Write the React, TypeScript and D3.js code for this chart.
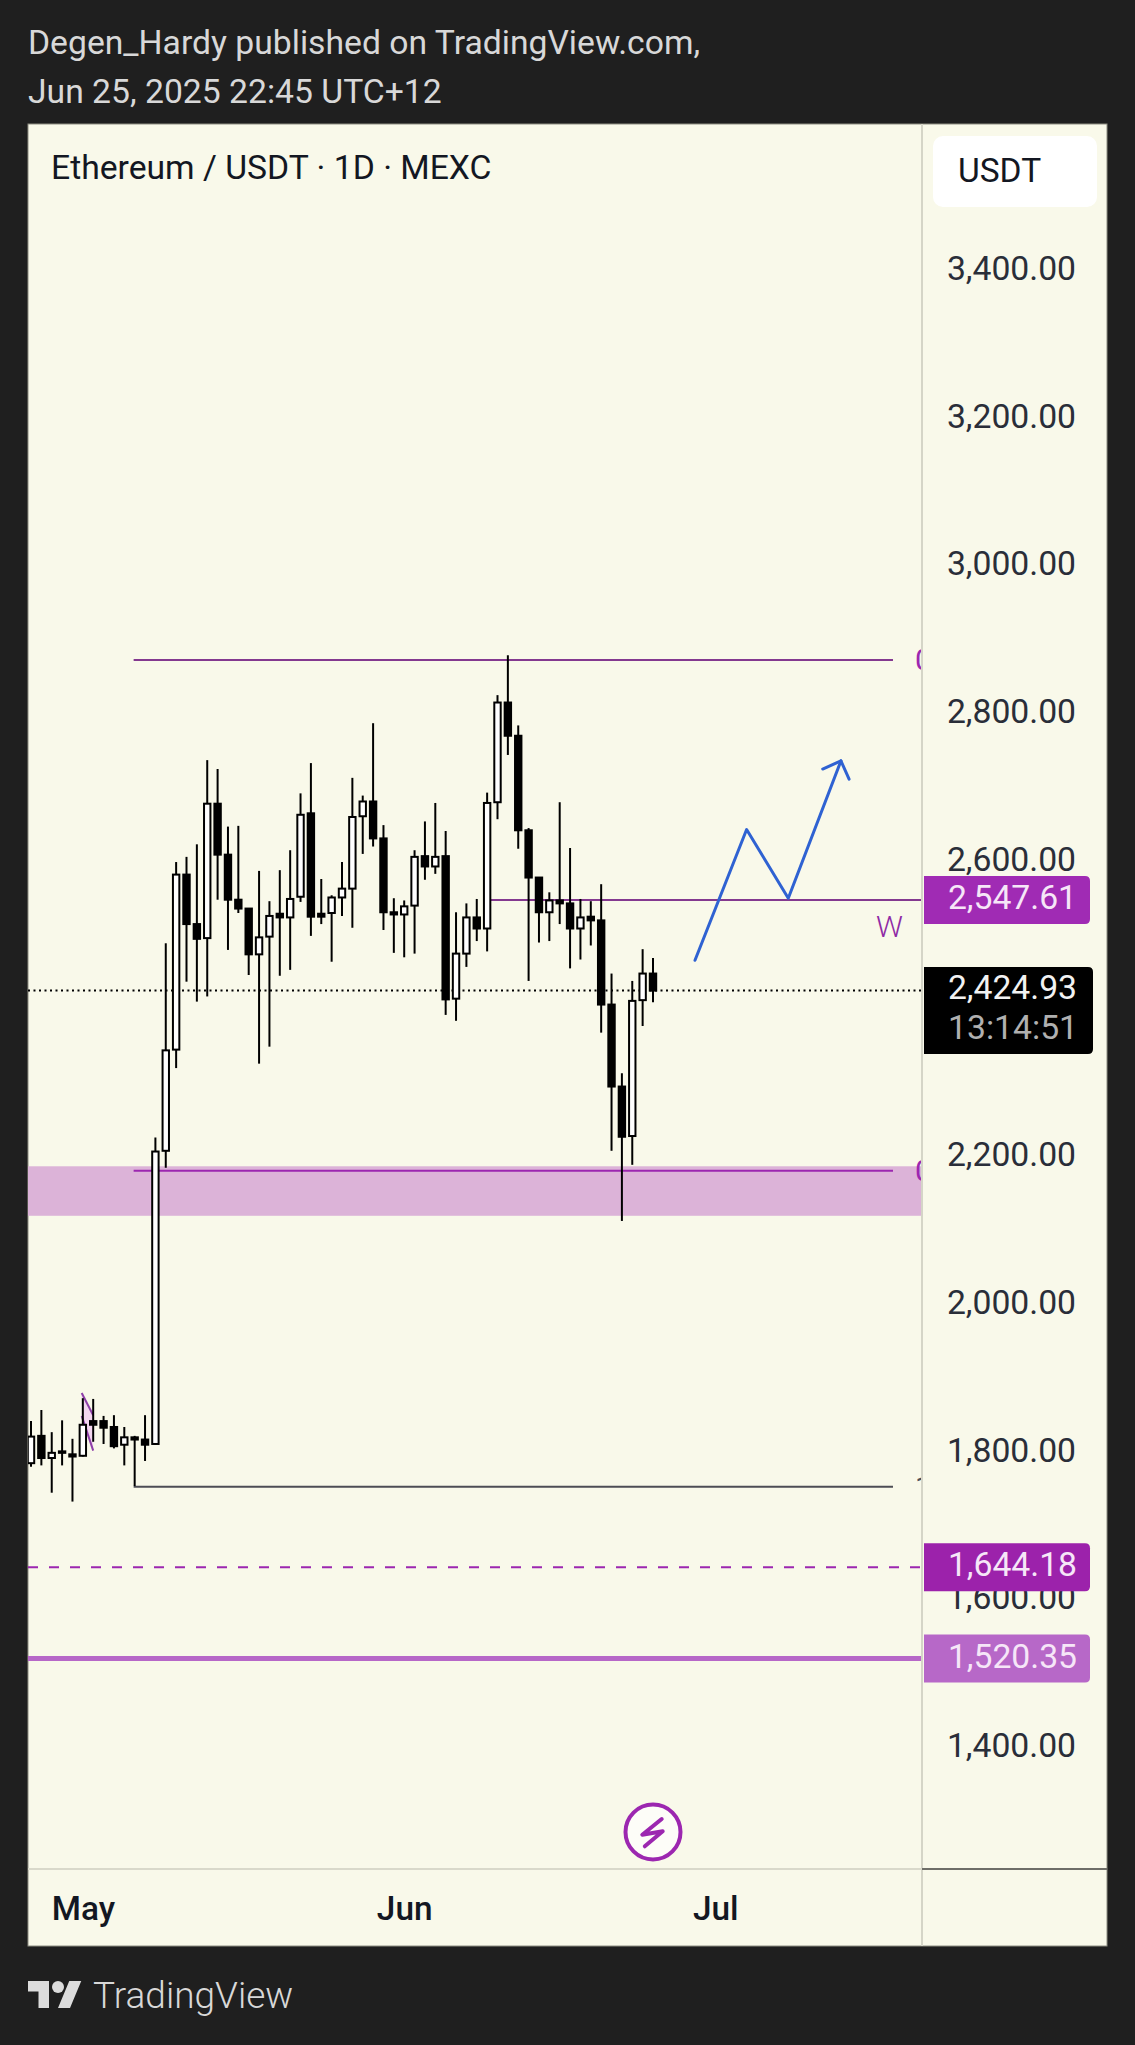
import React, { useEffect, useRef } from 'react';
import * as d3 from 'd3';

// Daily candles, first one is Apr 26 2025, last one is Jun 25 2025
const opens = [1785, 1822, 1792, 1799, 1797, 1795, 1842, 1842, 1834, 1810, 1820, 1817, 1811, 2208, 2345, 2582, 2515, 2496, 2678, 2609, 2548, 2536, 2474, 2498, 2529, 2524, 2552, 2665, 2529, 2530, 2551, 2563, 2661, 2681, 2631, 2531, 2528, 2540, 2607, 2593, 2607, 2414, 2475, 2524, 2509, 2680, 2815, 2770, 2642, 2578, 2531, 2547, 2543, 2509, 2525, 2520, 2406, 2295, 2228, 2412, 2448];
const highs = [1842, 1857, 1827, 1843, 1818, 1873, 1872, 1849, 1850, 1834, 1822, 1850, 2226, 2489, 2599, 2606, 2623, 2737, 2725, 2647, 2648, 2536, 2587, 2546, 2588, 2615, 2692, 2733, 2576, 2554, 2599, 2713, 2689, 2787, 2649, 2550, 2547, 2615, 2654, 2679, 2641, 2531, 2543, 2549, 2693, 2825, 2879, 2784, 2645, 2578, 2558, 2680, 2618, 2549, 2546, 2569, 2448, 2313, 2438, 2481, 2469];
const lows = [1780, 1782, 1745, 1782, 1733, 1794, 1814, 1811, 1805, 1782, 1754, 1788, 1810, 2185, 2320, 2437, 2410, 2417, 2548, 2480, 2530, 2446, 2326, 2349, 2445, 2453, 2545, 2499, 2515, 2464, 2526, 2510, 2610, 2620, 2507, 2476, 2470, 2475, 2575, 2583, 2392, 2384, 2457, 2492, 2478, 2657, 2744, 2617, 2438, 2490, 2492, 2515, 2455, 2467, 2486, 2368, 2208, 2113, 2189, 2377, 2409];
const closes = [1821, 1792, 1799, 1801, 1794, 1837, 1837, 1833, 1808, 1820, 1817, 1810, 2207, 2344, 2582, 2515, 2495, 2678, 2609, 2548, 2536, 2474, 2497, 2526, 2524, 2549, 2663, 2525, 2525, 2551, 2563, 2660, 2681, 2631, 2531, 2528, 2539, 2606, 2593, 2606, 2413, 2475, 2524, 2509, 2679, 2815, 2770, 2642, 2578, 2531, 2547, 2543, 2509, 2524, 2520, 2406, 2295, 2227, 2411, 2448, 2424.93];

const priceTicks = [3400, 3200, 3000, 2800, 2600, 2400, 2200, 2000, 1800, 1600, 1400];
const hiddenTicks = [2400]; // sits behind the last price label in the original
const monthTicks = [new Date(Date.UTC(2025, 4, 1)), new Date(Date.UTC(2025, 5, 1)), new Date(Date.UTC(2025, 6, 1))];

const headerLines = ['Degen_Hardy published on TradingView.com,', 'Jun 25, 2025 22:45 UTC+12'];
const chartTitle = 'Ethereum / USDT · 1D · MEXC';

// Drawings: bar index (may run past the last candle) and price
const topLevel = 2872.6;
const lowLevel = 2181;
const baseLevel = 1753;
const levelStart = 9.9;
const levelEnd = 83.15;
const midLevel = 2547.61;
const midLevelStart = 44;
const zone = [2187, 2120];
const dashedLevel = 1644.18;
const solidLevel = 1520.35;
const lastPrice = 2424.93;
const countdown = '13:14:51';
const projectionIdx = [64.05, 69.03, 73.05, 78.13];
const projectionPrice = [2466, 2643, 2550, 2736];
const patchIdx = [4.89, 6, 6, 4.89];
const patchPrice = [1880, 1850, 1802, 1849];

const FONT = 'Roboto, sans-serif';
const TEXT_SIZE = 33.7;
const PANE = '#f9f9ea';
const DARK = '#1f1f1f';
const PURPLE = '#9c27b0';
const LIGHT_PURPLE = '#b768c8';

const dateAt = (i: number) => new Date(Date.UTC(2025, 3, 26) + i * 86400000);

const App: React.FC = () => {
  const svgRef = useRef<SVGSVGElement | null>(null);

  useEffect(() => {
    if (!svgRef.current) return;
    const svg = d3.select(svgRef.current);
    svg.selectAll('*').remove();

    const paneLeft = 28;
    const paneRight = 922;
    const paneTop = 124;
    const paneBottom = 1869;
    const chartRight = 1107;
    const chartBottom = 1946;

    const x = d3.scaleUtc().domain([dateAt(0), dateAt(60)]).range([31, 653]);
    const y = d3.scaleLinear().domain([3400, 1400]).range([270.5, 1747.5]);
    const xi = (i: number) => x(dateAt(i));

    svg.append('rect').attr('width', 1135).attr('height', 2045).attr('fill', DARK);
    svg
      .append('rect')
      .attr('x', paneLeft)
      .attr('y', paneTop)
      .attr('width', chartRight - paneLeft)
      .attr('height', chartBottom - paneTop)
      .attr('fill', PANE)
      .attr('stroke', '#8d8d82')
      .attr('stroke-width', 1);

    svg
      .append('clipPath')
      .attr('id', 'pane-clip')
      .append('rect')
      .attr('x', paneLeft)
      .attr('y', paneTop)
      .attr('width', paneRight - paneLeft)
      .attr('height', paneBottom - paneTop);

    // Header
    svg
      .selectAll('.header')
      .data(headerLines)
      .enter()
      .append('text')
      .attr('class', 'header')
      .attr('x', 28)
      .attr('y', (_, i) => 54.3 + i * 48.4)
      .attr('fill', '#d8d8d8')
      .style('font', `${TEXT_SIZE}px ${FONT}`)
      .text((d) => d);

    const pane = svg.append('g').attr('clip-path', 'url(#pane-clip)');

    // Zone behind everything
    pane
      .append('rect')
      .attr('x', paneLeft)
      .attr('width', paneRight - paneLeft)
      .attr('y', y(zone[0]))
      .attr('height', y(zone[1]) - y(zone[0]))
      .attr('fill', '#dcb3d8');

    // Small pattern drawing
    const patchPts = patchIdx.map((d, i) => [xi(d), y(patchPrice[i])] as [number, number]);
    pane.append('polygon').attr('points', patchPts.map((p) => p.join(',')).join(' ')).attr('fill', '#f3d6ef');
    pane
      .append('path')
      .attr('d', d3.line()([patchPts[0], patchPts[1]]))
      .attr('stroke', '#8e3fa8')
      .attr('stroke-width', 2)
      .attr('fill', 'none');
    pane
      .append('path')
      .attr('d', d3.line()([patchPts[3], patchPts[2]]))
      .attr('stroke', '#8e3fa8')
      .attr('stroke-width', 2)
      .attr('fill', 'none');

    // Horizontal levels
    const hLine = (price: number, from: number, to: number, color: string, width: number, dash?: string) =>
      pane
        .append('line')
        .attr('x1', from)
        .attr('x2', to)
        .attr('y1', y(price))
        .attr('y2', y(price))
        .attr('stroke', color)
        .attr('stroke-width', width)
        .attr('stroke-dasharray', dash ?? null);

    hLine(lastPrice, paneLeft, paneRight, '#000', 2, '2,3.5');
    hLine(topLevel, xi(levelStart), xi(levelEnd), '#84398f', 2);
    hLine(lowLevel, xi(levelStart), xi(levelEnd), PURPLE, 2);
    hLine(baseLevel, xi(levelStart), xi(levelEnd), '#4d4d55', 2);
    hLine(midLevel, xi(midLevelStart), paneRight, '#84398f', 2);
    hLine(dashedLevel, paneLeft, paneRight, PURPLE, 2, '10,11');
    hLine(solidLevel, paneLeft, paneRight, LIGHT_PURPLE, 5);

    // Labels of the levels, cut by the pane edge
    const levelLabels: [string, number, string][] = [
      ['0', topLevel, PURPLE],
      ['0', lowLevel, PURPLE],
      ['1', baseLevel, '#4d4d55'],
    ];
    pane
      .selectAll('.level-label')
      .data(levelLabels)
      .enter()
      .append('text')
      .attr('class', 'level-label')
      .attr('x', 915)
      .attr('y', (d) => y(d[1]) + 10.5)
      .attr('fill', (d) => d[2])
      .style('font', `30px ${FONT}`)
      .text((d) => d[0]);

    pane
      .append('text')
      .attr('x', xi(82.8))
      .attr('y', y(2497.5))
      .attr('text-anchor', 'middle')
      .attr('fill', '#8f2aa5')
      .style('font', `300 30px ${FONT}`)
      .text('W');

    // Candles
    const candles = opens.map((o, i) => ({ i, o, h: highs[i], l: lows[i], c: closes[i] }));
    const groups = pane.selectAll('.candle').data(candles).enter().append('g').attr('class', 'candle');
    groups
      .append('line')
      .attr('x1', (d) => xi(d.i))
      .attr('x2', (d) => xi(d.i))
      .attr('y1', (d) => y(d.h))
      .attr('y2', (d) => y(d.l))
      .attr('stroke', '#000')
      .attr('stroke-width', 2);
    groups
      .append('rect')
      .attr('x', (d) => xi(d.i) - 3.2)
      .attr('width', 6.4)
      .attr('y', (d) => y(Math.max(d.o, d.c)))
      .attr('height', (d) => Math.max(y(Math.min(d.o, d.c)) - y(Math.max(d.o, d.c)), 0.5))
      .attr('fill', (d) => (d.c >= d.o ? '#fff' : '#000'))
      .attr('stroke', '#000')
      .attr('stroke-width', 2);

    // Projection with arrow head
    const projPts = projectionIdx.map((d, i) => [xi(d), y(projectionPrice[i])] as [number, number]);
    const [px, py] = projPts[projPts.length - 2];
    const [qx, qy] = projPts[projPts.length - 1];
    const ang = Math.atan2(py - qy, px - qx);
    const wing = (a: number): [number, number] => [qx + 20 * Math.cos(ang + a), qy + 20 * Math.sin(ang + a)];
    const projLine = d3.line();
    pane
      .append('path')
      .attr('d', projLine(projPts))
      .attr('fill', 'none')
      .attr('stroke', '#2f62d2')
      .attr('stroke-width', 3)
      .attr('stroke-linecap', 'round')
      .attr('stroke-linejoin', 'round');
    pane
      .append('path')
      .attr('d', projLine([wing(Math.PI / 4), [qx, qy], wing(-Math.PI / 4)]))
      .attr('fill', 'none')
      .attr('stroke', '#2f62d2')
      .attr('stroke-width', 3)
      .attr('stroke-linecap', 'round')
      .attr('stroke-linejoin', 'round');

    // Bolt marker over the last candle
    const bolt = svg.append('g').attr('transform', `translate(${xi(60)},1832)`);
    bolt.append('circle').attr('r', 27.5).attr('fill', '#fdfdf8').attr('stroke', PURPLE).attr('stroke-width', 4);
    bolt
      .append('path')
      .attr('d', 'M8.7,-13 L-10.7,2.7 L9.7,-0.7 L-8.2,14.3')
      .attr('fill', 'none')
      .attr('stroke', PURPLE)
      .attr('stroke-width', 4)
      .attr('stroke-linecap', 'round')
      .attr('stroke-linejoin', 'round');

    // Separators
    svg
      .append('line')
      .attr('x1', paneRight)
      .attr('x2', paneRight)
      .attr('y1', paneTop)
      .attr('y2', chartBottom)
      .attr('stroke', '#d5d5c7')
      .attr('stroke-width', 2);
    svg
      .append('line')
      .attr('x1', paneLeft)
      .attr('x2', paneRight)
      .attr('y1', paneBottom)
      .attr('y2', paneBottom)
      .attr('stroke', '#d9d9cb')
      .attr('stroke-width', 2);
    svg
      .append('line')
      .attr('x1', paneRight)
      .attr('x2', chartRight)
      .attr('y1', paneBottom)
      .attr('y2', paneBottom)
      .attr('stroke', '#6e6e68')
      .attr('stroke-width', 2);

    // Title
    svg
      .append('text')
      .attr('x', 51)
      .attr('y', 179.3)
      .attr('fill', '#131722')
      .style('font', `${TEXT_SIZE}px ${FONT}`)
      .text(chartTitle);

    // Price axis
    const priceAxis = svg
      .append('g')
      .attr('transform', 'translate(1076,0)')
      .call(
        d3
          .axisRight(y)
          .tickValues(priceTicks.filter((t) => !hiddenTicks.includes(t)))
          .tickSize(0)
          .tickPadding(0)
          .tickFormat((d) => d3.format(',.2f')(d as number))
      );
    priceAxis.select('.domain').remove();
    priceAxis
      .selectAll('text')
      .attr('dy', 9)
      .attr('text-anchor', 'end')
      .attr('fill', '#2a2e39')
      .style('font', `${TEXT_SIZE}px ${FONT}`);

    // Time axis
    const timeAxis = svg
      .append('g')
      .attr('transform', `translate(0,${paneBottom})`)
      .call(
        d3
          .axisBottom(x)
          .tickValues(monthTicks)
          .tickSize(0)
          .tickPadding(0)
          .tickFormat((d) => d3.utcFormat('%b')(d as Date))
      );
    timeAxis.select('.domain').remove();
    timeAxis
      .selectAll('text')
      .attr('y', 51)
      .attr('dy', 0)
      .attr('fill', '#131722')
      .style('font', `500 33.4px ${FONT}`);

    // USDT button
    svg.append('rect').attr('x', 933).attr('y', 136).attr('width', 164).attr('height', 71).attr('rx', 10).attr('fill', '#fff');
    svg.append('text').attr('x', 958).attr('y', 181.5).attr('fill', '#131722').style('font', `33.5px ${FONT}`).text('USDT');

    // Price tags
    const tagPath = (top: number, bottom: number, right: number) =>
      `M924,${top}H${right - 5}Q${right},${top} ${right},${top + 5}V${bottom - 5}Q${right},${bottom} ${right - 5},${bottom}H924Z`;
    const tags: [number, string][] = [
      [midLevel, '#a02bb4'],
      [dashedLevel, '#9c22ab'],
      [solidLevel, LIGHT_PURPLE],
    ];
    tags.forEach(([price, color]) => {
      svg.append('path').attr('d', tagPath(y(price) - 24, y(price) + 24, 1090)).attr('fill', color);
      svg
        .append('text')
        .attr('x', 1077)
        .attr('y', y(price) + 9)
        .attr('text-anchor', 'end')
        .attr('fill', '#f6e6f8')
        .style('font', `${TEXT_SIZE}px ${FONT}`)
        .text(d3.format(',.2f')(price));
    });

    svg.append('path').attr('d', tagPath(y(lastPrice) - 23.5, y(lastPrice) + 63.5, 1093)).attr('fill', '#000');
    svg
      .append('text')
      .attr('x', 1077)
      .attr('y', y(lastPrice) + 8.5)
      .attr('text-anchor', 'end')
      .attr('fill', '#f2f2f2')
      .style('font', `${TEXT_SIZE}px ${FONT}`)
      .text(d3.format(',.2f')(lastPrice));
    svg
      .append('text')
      .attr('x', 1078)
      .attr('y', y(lastPrice) + 48)
      .attr('text-anchor', 'end')
      .attr('fill', '#b0b0b0')
      .style('font', `${TEXT_SIZE}px ${FONT}`)
      .text(countdown);

    // Footer logo
    const logo = svg.append('g').attr('transform', 'translate(28,1975) scale(1.5)').attr('fill', '#dcdcdc');
    logo.append('path').attr('d', 'M14 22H7V11H0V4h14v18zM28 22h-8l7.5-18h8L28 22z');
    logo.append('circle').attr('cx', 20).attr('cy', 8).attr('r', 4);
    svg
      .append('text')
      .attr('x', 93)
      .attr('y', 2008)
      .attr('fill', '#d8d8d8')
      .style('font', `300 37px ${FONT}`)
      .text('TradingView');
  }, []);

  return (
    <div style={{ position: 'absolute', left: 0, top: 0 }}>
      <svg ref={svgRef} width={1135} height={2045} style={{ display: 'block' }}></svg>
    </div>
  );
};

export default App;
